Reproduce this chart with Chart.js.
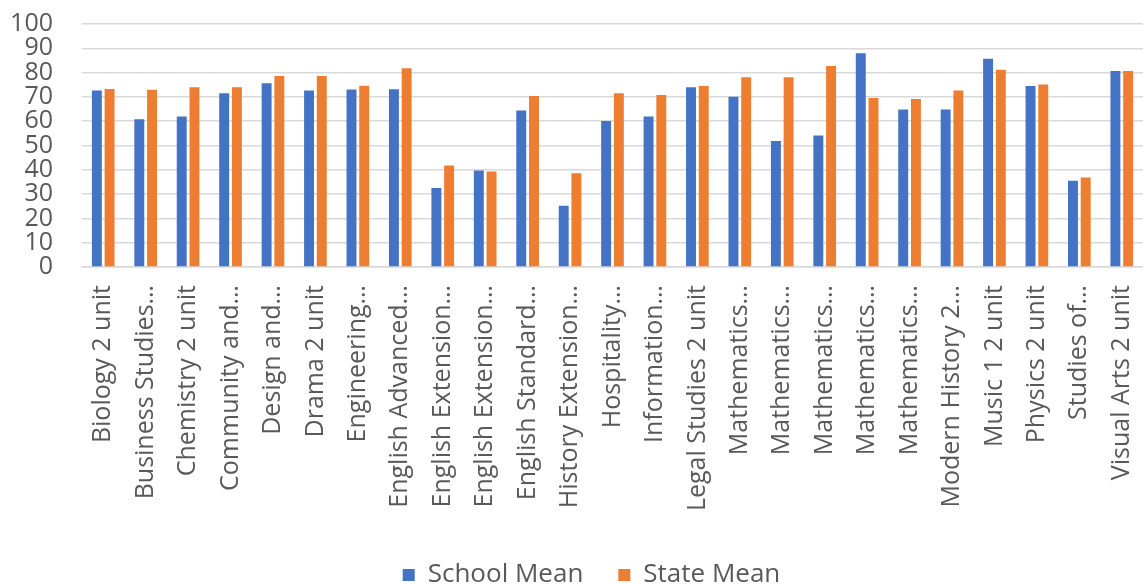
<!DOCTYPE html>
<html>
<head>
<meta charset="utf-8">
<script src="https://cdn.jsdelivr.net/npm/chart.js@4/dist/chart.umd.min.js"></script>
<style>
  html, body { margin: 0; padding: 0; background: #fff; }
  #wrap { width: 1143px; height: 584px; }
</style>
</head>
<body>
<div id="wrap"><canvas id="meansChart"></canvas></div>
<script>
var subjects = [
  'Biology 2 unit', 'Business Studies\u2026', 'Chemistry 2 unit', 'Community and\u2026',
  'Design and\u2026', 'Drama 2 unit', 'Engineering\u2026', 'English Advanced\u2026',
  'English Extension\u2026', 'English Extension\u2026', 'English Standard\u2026',
  'History Extension\u2026', 'Hospitality\u2026', 'Information\u2026', 'Legal Studies 2 unit',
  'Mathematics\u2026', 'Mathematics\u2026', 'Mathematics\u2026', 'Mathematics\u2026',
  'Mathematics\u2026', 'Modern History 2\u2026', 'Music 1 2 unit', 'Physics 2 unit',
  'Studies of\u2026', 'Visual Arts 2 unit'
];
var schoolMean = [72.6, 60.8, 61.9, 71.5, 75.6, 72.6, 73.0, 73.1, 32.5, 39.7, 64.4, 25.2, 60.1,
  61.9, 74.0, 70.1, 51.9, 54.1, 88.0, 64.8, 64.8, 85.7, 74.5, 35.5, 80.7];
var stateMean = [73.2, 72.9, 74.0, 74.0, 78.6, 78.6, 74.6, 81.8, 41.8, 39.3, 70.4, 38.6, 71.5,
  70.8, 74.5, 78.1, 78.1, 82.7, 69.5, 69.1, 72.6, 81.2, 75.1, 36.8, 80.7];
var yTicks = [0, 10, 20, 30, 40, 50, 60, 70, 80, 90, 100];

// legend centring counts the trailing gap, nudge it back
var legendNudge = {
  id: 'legendNudge',
  afterLayout: function (chart) {
    chart.legend.left += 20;
    chart.legend.right += 20;
  }
};

(function () {
  "use strict";

  var ctx = document.getElementById('meansChart').getContext('2d');
  window.meansChart = new Chart(ctx, {
    type: 'bar',
    data: {
      labels: subjects,
      datasets: [{
        label: 'School Mean',
        data: schoolMean,
        backgroundColor: '#4472C4',
        barPercentage: 0.78,
        categoryPercentage: 0.6
      }, {
        label: 'State Mean',
        data: stateMean,
        backgroundColor: '#ED7D31',
        barPercentage: 0.78,
        categoryPercentage: 0.6
      }]
    },
    plugins: [legendNudge],
    options: {
      responsive: true,
      maintainAspectRatio: false,
      animation: false,
      layout: {
        // legend padding doubles as the gap between items, so let it hang off the bottom
        padding: { top: 24, left: 0, right: 0, bottom: -14 }
      },
      plugins: {
        legend: {
          position: 'bottom',
          labels: {
            boxWidth: 12,
            boxHeight: 12,
            padding: 35,
            color: '#595959',
            font: { family: 'Open Sans', size: 26 }
          }
        },
        tooltip: { enabled: false }
      },
      scales: {
        x: {
          grid: { display: false, drawTicks: false },
          border: { display: true, color: '#d9d9d9', width: 1.5 },
          ticks: {
            autoSkip: false,
            minRotation: 90,
            maxRotation: 90,
            padding: 18,
            color: '#595959',
            font: { family: 'Open Sans', size: 25 }
          },
          afterFit: function (scale) {
            scale.paddingLeft = 0;
            scale.paddingRight = 0;
            scale.height = 260;
          }
        },
        y: {
          min: 0,
          max: 100,
          afterBuildTicks: function (axis) {
            axis.ticks = yTicks.map(function (v) { return { value: v }; });
          },
          grid: { color: '#d9d9d9', lineWidth: 1.5, drawTicks: false },
          border: { display: false },
          ticks: {
            autoSkip: false,
            padding: 29,
            color: '#595959',
            font: { family: 'Open Sans', size: 25 }
          },
          afterFit: function (scale) {
            scale.paddingTop = 0;
            scale.paddingBottom = 0;
            scale.width = 82;
          }
        }
      }
    }
  });
})();
</script>
</body>
</html>
